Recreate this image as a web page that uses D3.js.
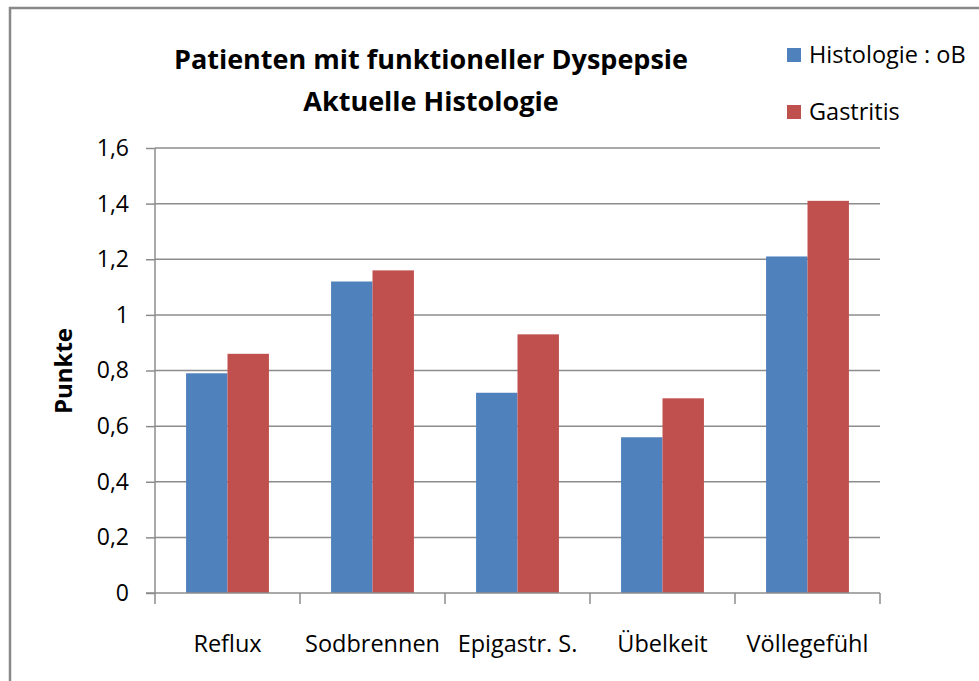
<!DOCTYPE html>
<html>
<head>
<meta charset="utf-8">
<script src="https://cdn.jsdelivr.net/npm/d3@7"></script>
<style>
  body { margin: 0; background: #fff; }
  text { font-family: "Open Sans", sans-serif; fill: #000; }
</style>
</head>
<body>
<div id="chart"></div>
<script>
// data
const categories = ["Reflux", "Sodbrennen", "Epigastr. S.", "Übelkeit", "Völlegefühl"];
const seriesNames = ["Histologie : oB", "Gastritis"];
const histologieOB = [0.79, 1.12, 0.72, 0.56, 1.21];
const gastritis = [0.86, 1.16, 0.93, 0.70, 1.41];
const yTicks = [0, 0.2, 0.4, 0.6, 0.8, 1, 1.2, 1.4, 1.6];
const colors = ["#4F81BD", "#C0504D"];

const width = 979, height = 681;
const plot = {left: 155, right: 880, top: 148, bottom: 593};

const svg = d3.select("#chart").append("svg")
  .attr("width", width)
  .attr("height", height);

// outer frame of the chart object
svg.append("path")
  .attr("d", `M10,${height + 5} L10,8 L${width + 5},8`)
  .attr("fill", "none")
  .attr("stroke", "#898989")
  .attr("stroke-width", 2.5);

// scales
const x = d3.scaleBand()
  .domain(categories)
  .range([plot.left, plot.right])
  .paddingInner(0)
  .paddingOuter(0);

const xInner = d3.scaleBand()
  .domain(seriesNames)
  .range([0, x.bandwidth()])
  .paddingOuter(0.75)
  .paddingInner(0);

const y = d3.scaleLinear()
  .domain([0, 1.6])
  .range([plot.bottom, plot.top]);

// y axis
const yAxis = svg.append("g")
  .attr("transform", `translate(${plot.left},0)`)
  .call(d3.axisLeft(y)
    .tickValues(yTicks)
    .tickSize(9)
    .tickPadding(17)
    .tickFormat(d => d3.format(".1~f")(d).replace(".", ",")));
yAxis.select(".domain").attr("stroke", "#8c8c8c").attr("stroke-width", 1.5).attr("d", `M0,${plot.top}V${plot.bottom}`);
yAxis.selectAll(".tick line").attr("stroke", "#8c8c8c").attr("stroke-width", 1.5);
yAxis.selectAll(".tick text").style("font-size", "23px").attr("fill", "#000");

// gridlines
svg.append("g")
  .selectAll("line")
  .data(yTicks.filter(d => d > 0))
  .join("line")
  .attr("x1", plot.left)
  .attr("x2", plot.right)
  .attr("y1", d => y(d))
  .attr("y2", d => y(d))
  .attr("stroke", "#8c8c8c")
  .attr("stroke-width", 1.5);

// bars
const rows = categories.map((c, i) => ({cat: c, vals: [histologieOB[i], gastritis[i]]}));
svg.append("g")
  .selectAll("g")
  .data(rows)
  .join("g")
  .attr("transform", d => `translate(${x(d.cat)},0)`)
  .selectAll("rect")
  .data(d => d.vals.map((v, j) => ({name: seriesNames[j], v: v, j: j})))
  .join("rect")
  .attr("x", d => xInner(d.name))
  .attr("width", xInner.bandwidth())
  .attr("y", d => y(d.v))
  .attr("height", d => y(0) - y(d.v))
  .attr("fill", d => colors[d.j]);

// x axis
const xAxis = svg.append("g")
  .attr("transform", `translate(0,${plot.bottom})`)
  .call(d3.axisBottom(x).tickSize(0).tickPadding(42));
xAxis.select(".domain").attr("stroke", "#8c8c8c").attr("stroke-width", 1.5).attr("d", `M${plot.left - 9},0H${plot.right}`);
xAxis.selectAll(".tick text").style("font-size", "23.5px").attr("fill", "#000");

// category separators
const bounds = categories.map(c => x(c)).concat([plot.right]);
xAxis.selectAll(".sep")
  .data(bounds)
  .join("line")
  .attr("class", "sep")
  .attr("x1", d => d).attr("x2", d => d)
  .attr("y1", 0).attr("y2", 11)
  .attr("stroke", "#8c8c8c")
  .attr("stroke-width", 1.5);

// y label
svg.append("text")
  .attr("transform", "translate(72,371) rotate(-90)")
  .attr("text-anchor", "middle")
  .style("font-size", "24px")
  .style("font-weight", "bold")
  .text("Punkte");

// title
const title = svg.append("g").attr("text-anchor", "middle").style("font-weight", "bold").style("font-size", "27px");
title.append("text").attr("x", 431).attr("y", 69).text("Patienten mit funktioneller Dyspepsie");
title.append("text").attr("x", 431).attr("y", 111).text("Aktuelle Histologie");

// legend
const legend = svg.append("g")
  .selectAll("g")
  .data(seriesNames)
  .join("g")
  .attr("transform", (d, i) => `translate(787,${63 + i * 57})`);
legend.append("rect")
  .attr("x", 0).attr("y", -15)
  .attr("width", 14).attr("height", 14)
  .attr("fill", (d, i) => colors[i]);
legend.append("text")
  .attr("x", 22).attr("y", 0)
  .style("font-size", "23.5px")
  .text(d => d);
</script>
</body>
</html>
